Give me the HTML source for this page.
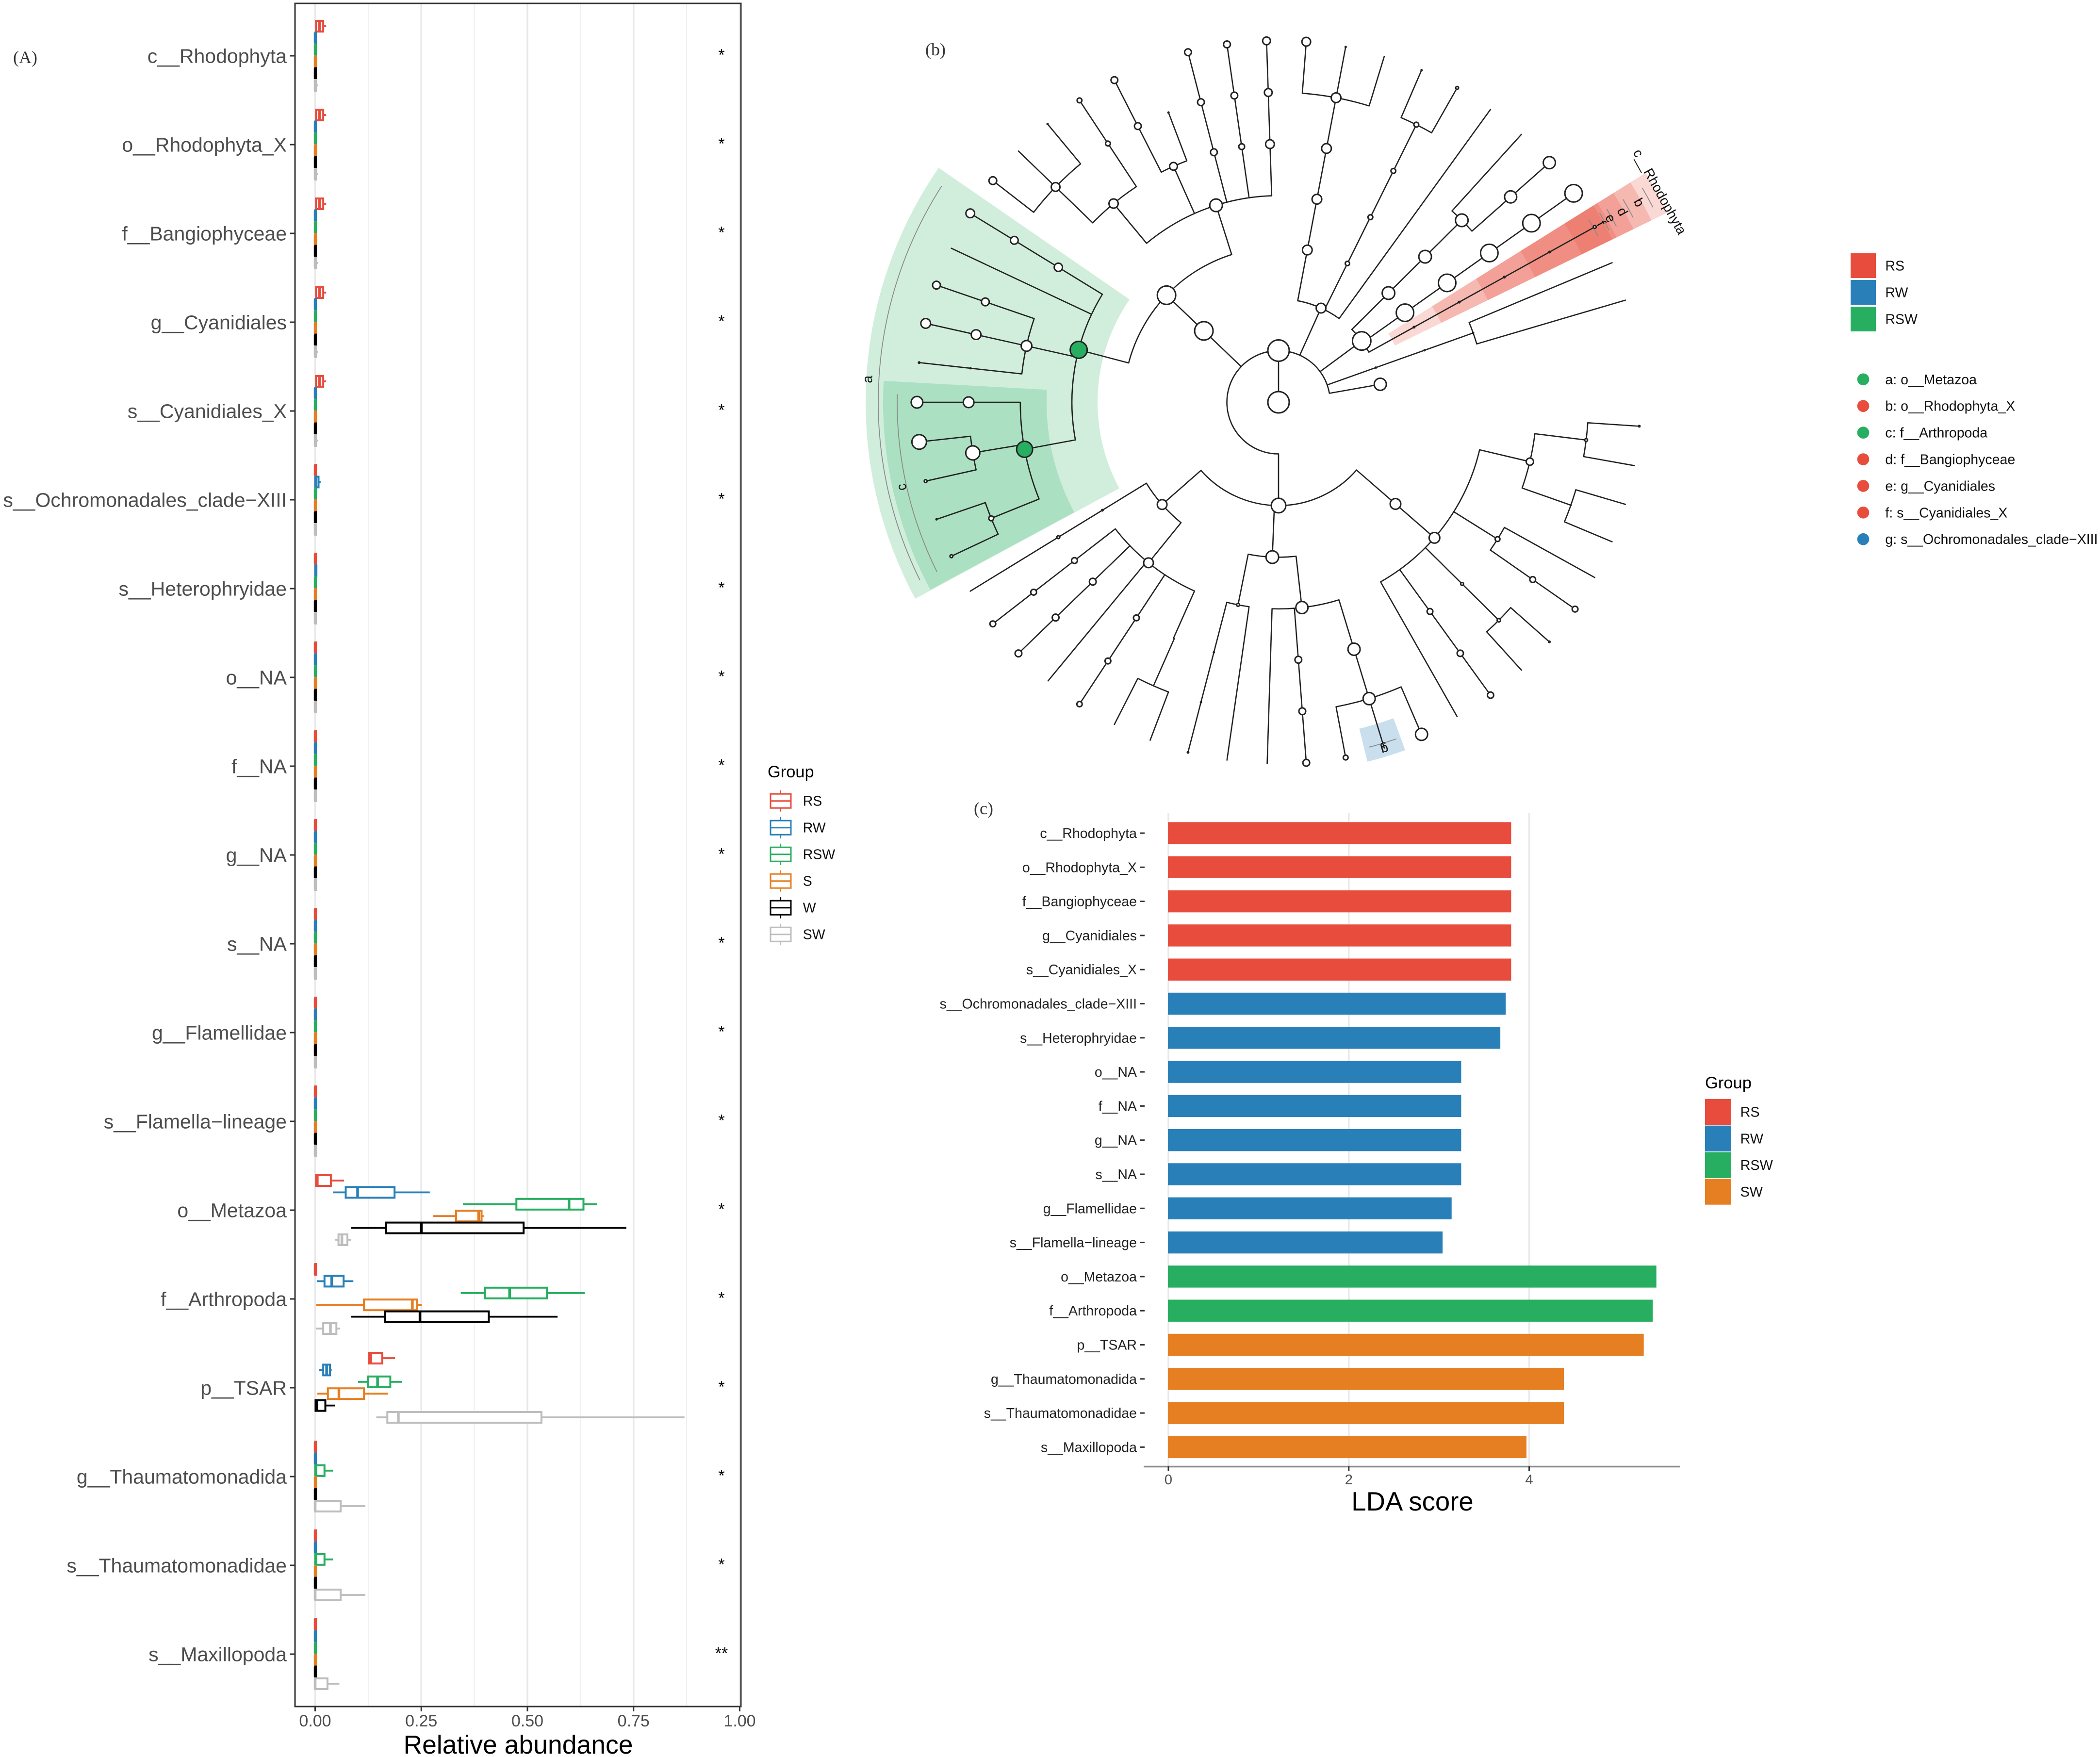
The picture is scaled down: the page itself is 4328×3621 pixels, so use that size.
<!DOCTYPE html>
<html lang="en">
<head>
<meta charset="utf-8">
<title>Relative abundance, cladogram and LDA score</title>
<style>
html,body{margin:0;padding:0;background:#fff;}
svg{display:block;}
text{font-family:"Liberation Sans",sans-serif;}
.serif{font-family:"Liberation Serif",serif;}
</style>
</head>
<body>
<svg id="fig" xmlns="http://www.w3.org/2000/svg" width="4328" height="3621" viewBox="0 0 4328 3621">
<rect x="0" y="0" width="4328" height="3621" fill="#fff"/>
</svg>
<script>
/* ---------- shared data ---------- */
const taxa = ['c__Rhodophyta','o__Rhodophyta_X','f__Bangiophyceae','g__Cyanidiales','s__Cyanidiales_X','s__Ochromonadales_clade\u2212XIII','s__Heterophryidae','o__NA','f__NA','g__NA','s__NA','g__Flamellidae','s__Flamella\u2212lineage','o__Metazoa','f__Arthropoda','p__TSAR','g__Thaumatomonadida','s__Thaumatomonadidae','s__Maxillopoda'];
const boxGroups = ['RS','RW','RSW','S','W','SW'];
const boxColors = ['#E74C3C','#2980B9','#27AE60','#E67E22','#000000','#BDBDBD'];
const t = [0,0,0,.002,.002];
const r0 = [.001,.002,.01,.019,.026];
const g0 = [0,0,0,.002,.007];
/* each entry: lower whisker, q1, median, q3, upper whisker */
const boxRS  = [r0,r0,r0,r0,r0,t,t,t,t,t,t,t,t,[.002,.002,.005,.037,.068],[0,0,0,.002,.002],[.127,.127,.131,.158,.188],t,t,t];
const boxRW  = [t,t,t,t,t,[0,0,.002,.008,.013],[0,0,.001,.003,.004],t,t,t,t,t,t,[.042,.072,.10,.187,.27],[.004,.022,.039,.067,.09],[.009,.019,.027,.035,.039],t,t,t];
const boxRSW = [t,t,t,t,t,t,t,t,t,t,t,t,t,[.348,.474,.598,.632,.664],[.343,.40,.458,.546,.635],[.101,.124,.147,.177,.205],[0,0,.002,.022,.042],[0,0,.002,.022,.042],t];
const boxS   = [t,t,t,t,t,t,t,t,t,t,t,t,t,[.278,.332,.385,.392,.397],[.002,.115,.229,.24,.251],[.005,.03,.056,.115,.172],t,t,t];
const boxW   = [t,t,t,t,t,t,t,t,t,t,t,t,t,[.085,.167,.25,.491,.733],[.085,.165,.247,.409,.571],[0,.001,.004,.024,.047],t,t,t];
const boxSW  = [g0,g0,g0,g0,g0,t,t,t,t,t,t,t,t,[.047,.055,.063,.076,.085],[.002,.019,.036,.05,.059],[.144,.17,.196,.533,.87],[0,0,0,.06,.118],[0,0,0,.06,.118],[0,0,0,.029,.057]];
const boxSeries = [boxRS,boxRW,boxRSW,boxS,boxW,boxSW];
const signif = ['*','*','*','*','*','*','*','*','*','*','*','*','*','*','*','*','*','*','**'];
const abundanceTicks = [0,.25,.5,.75,1];
const abundanceTickLabels = ['0.00','0.25','0.50','0.75','1.00'];
const abundanceMinor = [.125,.375,.625,.875];

const ldaScores = [3.8,3.8,3.8,3.8,3.8,3.74,3.68,3.246,3.246,3.246,3.246,3.14,3.04,5.41,5.37,5.27,4.385,4.385,3.97];
const ldaGroups = ['RS','RS','RS','RS','RS','RW','RW','RW','RW','RW','RW','RW','RW','RSW','RSW','SW','SW','SW','SW'];
const ldaTicks = [0,2,4];
const ldaLegend = ['RS','RW','RSW','SW'];
const ldaColors = {RS:'#E74C3C',RW:'#2980B9',RSW:'#27AE60',SW:'#E67E22'};

const cladeKeyGroups = ['RS','RW','RSW'];
const cladeKeyLabels = ['a: o__Metazoa','b: o__Rhodophyta_X','c: f__Arthropoda','d: f__Bangiophyceae','e: g__Cyanidiales','f: s__Cyanidiales_X','g: s__Ochromonadales_clade\u2212XIII'];
const cladeKeyFill = ['RSW','RS','RSW','RS','RS','RS','RW'];

/* cladogram: node = angle (deg clockwise from top), circle radius, children; depth gives the ring */
function N(a,s,...kids){return {a:a,s:s,kids:kids,fill:'#fff'};}
function G(a,s,...kids){return {a:a,s:s,kids:kids,fill:'#27AE60'};}
function L(a,s){return N(a,s);}
function C(a,sizes){let n=null;for(let i=sizes.length-1;i>=0;i--){n=n?N(a,sizes[i],n):N(a,sizes[i]);}return n;}
const cladeTree = N(0,22,N(0,22,
  N(-46.3,19,N(-46.3,19,
    G(-75.3,17.5,
      C(-58.5,[8.5,8,9]),
      C(-64.8,[0,0,0]),
      N(-77.4,11,C(-71.1,[8,8]),C(-77.4,[10,10]),C(-83.7,[2,2.5])),
      G(-100.5,16.5,C(-90,[11,12]),N(-99.4,14.5,L(-96.3,15),L(-102.6,3)),N(-112,5,L(-108.9,2),L(-115.2,3)))
    ),
    N(-17.6,13,
      N(-39.7,9.5,N(-46,9,L(-52.2,8),L(-46,0),L(-39.7,2)),C(-33.4,[5,5])),
      N(-24,8,C(-27,[7,7]),L(-20.8,2)),
      C(-14.5,[7,7,7]),
      C(-8.2,[6,7,7]),
      C(-1.9,[9,8,8])
    )
  )),
  N(-180,15,
    N(-131.3,10,
      C(-121.5,[2.5,3,0,0]),
      N(-141,10,C(-127.8,[6,6,6]),C(-134,[7,7,7]),C(-140.4,[0,0,0]),C(-146.6,[6,6,5.5]),N(-156,0,N(-156.2,0,L(-153,0),L(-159.2,0))))
    ),
    N(-177.7,13,
      N(-168.7,3,C(-165.5,[2,2,2.5]),C(-171.8,[0,0,0])),
      N(-186.5,12.5,C(-178.2,[0,0,0]),C(-184.4,[7,7,7]),N(-197,12.5,N(-197,12.5,L(-190.7,5),L(-197,0),L(-203.3,12.5))))
    ),
    N(-229,11,N(-229,11,
      C(-209.6,[0,0,0]),
      C(-215.9,[6,6.5,6.5]),
      N(-225.3,3,N(-225.3,3.5,L(-222.2,0),L(-228.5,2.5))),
      N(-238,5,C(-235.1,[6,6]),C(-241,[0,0])),
      N(-256.7,7.5,N(-263,3,L(-266.2,2.5),L(-259.9,0)),N(-250.6,1.5,L(-253.6,0),L(-247.3,0)))
    ))
  ),
  N(24.3,10,
    N(10.7,10,N(10.7,10,N(10.7,10,N(10.7,10,L(4.4,9),L(10.7,2),L(17,0))))),
    N(26.4,4.5,N(26.4,5,N(26.4,5,N(26.4,5,L(23.3,2),L(29.6,3))))),
    C(35.9,[0,0,0,0,0])
  ),
  N(53.6,19,
    N(45.2,13,N(45.2,13,N(45.2,13,C(42.2,[0,0]),C(48.5,[12.5,12.5])))),
    C(54.7,[18,18,18,18,18]),
    C(61,[2.5,2.5,2.5,2.5,3])
  ),
  N(70.4,2,N(70.4,2,N(70.4,2,C(67.3,[0,0,0]),C(73.6,[0,0,0])))),
  L(80,12.5)
));
/* highlighted clades: inner ring, outer ring, start angle, end angle, group */
const cladeSectors = [
  [373,851,-118.4,-55.4,'RSW'],[478,815,-118.3,-86.9,'RSW'],
  [267,892,58,64,'RS'],[373,855,58,64,'RS'],[480,814,58,64,'RS'],[588,775,58,64,'RS'],[695,765,58,64,'RS'],
  [693,763,-200,-193.9,'RW']
];
/* clade bracket arcs: ring, start angle, end angle */
const cladeBrackets = [[825,-116.4,-57.3],[786,-116.4,-88.8],[870,59.5,62.5],[824,59.5,62.5],[785,59.5,62.5],[768,59.5,62.5],[742,59.5,62.5],[735,-199.3,-194.7]];
/* clade labels: text, ring, angle */
const cladeLabels = [['a',849,-86.8],['c',797,-102.7],['c__Rhodophyta',898,61.1],['b',850,61],['d',811,61],['e',783,61],['f',761,61],['g',749,-197]];

/* ---------- helpers ---------- */
const NS='http://www.w3.org/2000/svg';
const fig=document.getElementById('fig');
function mk(tag,attrs,parent){const e=document.createElementNS(NS,tag);for(const k in attrs){e.setAttribute(k,attrs[k]);}(parent||fig).appendChild(e);return e;}
function group(name){const g=mk('g',{});


return g;}
function label(parent,name,str,x,y,size,fill,anchor,cls){const e=mk('text',{x:x,y:y,'font-size':size,fill:fill,'text-anchor':anchor||'start'},parent);if(cls){e.setAttribute('class',cls);}e.textContent=str;


return e;}

/* ---------- panel A ---------- */
const xA=v=>649.5+875*v;
const rowA=i=>115+183*i;
const dodgeA=j=>(j-2.5)*24.4;
const pA=group('panel-a-boxplot');
label(pA,'panel-a-tag','(A)',52,130,36,'#333','middle','serif');
abundanceMinor.forEach(v=>{const e=mk('line',{x1:xA(v),x2:xA(v),y1:8,y2:3516,stroke:'#efefef','stroke-width':2},pA);

});
abundanceTicks.forEach(v=>{const e=mk('line',{x1:xA(v),x2:xA(v),y1:8,y2:3516,stroke:'#e8e8e8','stroke-width':3.5},pA);

});
taxa.forEach((name,i)=>{
  const y=rowA(i);
  const tk=mk('line',{x1:598,x2:608,y1:y,y2:y,stroke:'#333','stroke-width':3},pA);
  
  
  label(pA,'y-label-'+i,name,591,y+14.5,41,'#4d4d4d','end');
  label(pA,'significance-'+i,signif[i],1487,y+9.5,34,'#000','middle');
  boxSeries.forEach((series,j)=>{
    const d=series[i],c=boxColors[j],yy=y+dodgeA(j),h=22;
    const g=mk('g',{},pA);
    
    
    const w1=mk('line',{x1:xA(d[0]),x2:xA(d[1]),y1:yy,y2:yy,stroke:c,'stroke-width':3.8},g);
    
    
    const w2=mk('line',{x1:xA(d[3]),x2:xA(d[4]),y1:yy,y2:yy,stroke:c,'stroke-width':3.8},g);
    
    
    const b=mk('rect',{x:xA(d[1]),y:yy-h/2,width:xA(d[3])-xA(d[1]),height:h,fill:'#fff',stroke:c,'stroke-width':4},g);
    
    
    const m=mk('line',{x1:xA(d[2]),x2:xA(d[2]),y1:yy-h/2,y2:yy+h/2,stroke:c,'stroke-width':5.5},g);
    
    
  });
});
const frameA=mk('rect',{x:608,y:7,width:919,height:3510,fill:'none',stroke:'#333','stroke-width':3},pA);


abundanceTicks.forEach((v,i)=>{
  const e=mk('line',{x1:xA(v),x2:xA(v),y1:3517,y2:3527,stroke:'#333','stroke-width':3},pA);
  
  
  label(pA,'x-tick-label-'+i,abundanceTickLabels[i],xA(v),3558,34,'#4d4d4d','middle');
});
label(pA,'x-axis-title','Relative abundance',1068,3614,53.5,'#000','middle');
/* legend A */
const legA=group('box-legend');
label(legA,'box-legend-title','Group',1582,1602,34.4,'#000');
boxGroups.forEach((name,j)=>{
  const cy=1650.7+55*j,c=boxColors[j];
  const v=mk('line',{x1:1608.6,x2:1608.6,y1:cy-22,y2:cy+22,stroke:c,'stroke-width':3},legA);
  
  
  const b=mk('rect',{x:1588,y:cy-14.5,width:42,height:29,fill:'#fff',stroke:c,'stroke-width':3},legA);
  
  
  const m=mk('line',{x1:1588,x2:1630,y1:cy,y2:cy,stroke:c,'stroke-width':3},legA);
  
  
  label(legA,'legend-label-'+name,name,1654.7,cy+10,28.5,'#111');
});

/* ---------- panel B ---------- */
const cx=2635,cy0=829,ringStep=106.45;
const rad=d=>d*Math.PI/180;
const P=(r,a)=>[cx+r*Math.sin(rad(a)),cy0-r*Math.cos(rad(a))];
function arcD(r,a1,a2,move){const p=P(r,a1),q=P(r,a2);return (move?'M':'L')+p[0].toFixed(1)+' '+p[1].toFixed(1)+' A'+r+' '+r+' 0 '+((a2-a1)>180?1:0)+' 1 '+q[0].toFixed(1)+' '+q[1].toFixed(1);}
function arcBack(r,a1,a2){const q=P(r,a1);return 'A'+r+' '+r+' 0 '+((a2-a1)>180?1:0)+' 0 '+q[0].toFixed(1)+' '+q[1].toFixed(1);}
const pB=group('panel-b-cladogram');
label(pB,'panel-b-tag','(b)',1928,114,36,'#333','middle','serif');
cladeSectors.forEach(s=>{
  const e=mk('path',{d:arcD(s[1],s[2],s[3],true)+' L'+P(s[0],s[3]).map(v=>v.toFixed(1)).join(' ')+' '+arcBack(s[0],s[2],s[3])+' Z',fill:ldaColors[s[4]],'fill-opacity':s[4]==='RSW'?0.21:(s[4]==='RS'?0.22:0.25)},pB);
  
  
});
cladeBrackets.forEach(s=>{
  const e=mk('path',{d:arcD(s[0],s[1],s[2],true),fill:'none',stroke:'#8a8a8a','stroke-width':1.8},pB);
  
  
});
const dots=[];
function drawNode(n,depth){
  const r=ringStep*depth;
  if(n.kids.length){
    const as=n.kids.map(k=>k.a),lo=Math.min.apply(null,as),hi=Math.max.apply(null,as);
    if(hi>lo){
      const e=mk('path',{d:arcD(r,lo,hi,true),fill:'none',stroke:'#222','stroke-width':2.6},pB);
      
      
    }
    n.kids.forEach(k=>{
      const a=P(r,k.a),b=P(r+ringStep,k.a);
      const e=mk('line',{x1:a[0],y1:a[1],x2:b[0],y2:b[1],stroke:'#222','stroke-width':2.6,'stroke-linecap':'round'},pB);
      
      
      drawNode(k,depth+1);
    });
  }
  if(n.s>0){dots.push([n,r]);}
}
drawNode(cladeTree,0);
dots.forEach(d=>{
  const n=d[0],p=P(d[1],n.a);
  const tiny=n.s<=2.5;
  const e=mk('circle',{cx:p[0],cy:p[1],r:n.s,fill:tiny?'#222':n.fill,stroke:'#222','stroke-width':tiny?1:3},pB);
  
  
});
cladeLabels.forEach(l=>{
  const p=P(l[1],l[2]);
  const e=mk('text',{x:0,y:0,'font-size':28,fill:'#111','text-anchor':'middle',transform:'translate('+p[0].toFixed(1)+' '+p[1].toFixed(1)+') rotate('+l[2]+') translate(0 10)'},pB);
  e.textContent=l[0];
  
  
});
const legB=group('clade-legend');
cladeKeyGroups.forEach((name,i)=>{
  const yy=547.5+55*i;
  const e=mk('rect',{x:3814,y:yy-25.5,width:52,height:51,fill:ldaColors[name]},legB);
  
  
  label(legB,'clade-legend-label-'+name,name,3885.4,yy+10,28.5,'#111');
});
cladeKeyLabels.forEach((str,i)=>{
  const yy=781.8+54.9*i;
  const e=mk('circle',{cx:3840,cy:yy,r:12.3,fill:ldaColors[cladeKeyFill[i]]},legB);
  
  
  label(legB,'clade-key-label-'+i,str,3885.4,yy+10,28.5,'#111');
});

/* ---------- panel C ---------- */
const xC=v=>2408+185.9*v;
const rowC=i=>1717+70.3*i;
const pC=group('panel-c-lda-bars');
label(pC,'panel-c-tag','(c)',2027,1678,36,'#333','middle','serif');
ldaTicks.forEach(v=>{
  const e=mk('line',{x1:xC(v),x2:xC(v),y1:1675,y2:3022,stroke:'#e9e9e9','stroke-width':3.5},pC);
  
  
});
taxa.forEach((name,i)=>{
  const y=rowC(i);
  const b=mk('rect',{x:xC(0)-1,y:y-22.7,width:xC(ldaScores[i])-xC(0)+1,height:45.4,fill:ldaColors[ldaGroups[i]]},pC);
  
  
  const tk=mk('line',{x1:2350,x2:2359,y1:y,y2:y,stroke:'#333','stroke-width':3},pC);
  
  
  label(pC,'lda-y-label-'+i,name,2343,y+10,28.5,'#222','end');
});
const axC=mk('line',{x1:2357,x2:3463,y1:3022.5,y2:3022.5,stroke:'#8c8c8c','stroke-width':3.5},pC);


ldaTicks.forEach(v=>{
  const e=mk('line',{x1:xC(v),x2:xC(v),y1:3022,y2:3032,stroke:'#333','stroke-width':3},pC);
  
  
  label(pC,'lda-x-tick-label-'+v,String(v),xC(v),3059,29,'#4d4d4d','middle');
});
label(pC,'lda-x-axis-title','LDA score',2911,3113,54.5,'#000','middle');
const legC=group('lda-legend');
label(legC,'lda-legend-title','Group',3514,2243,34.5,'#000');
ldaLegend.forEach((name,i)=>{
  const yy=2291.6+54.8*i;
  const e=mk('rect',{x:3514,y:yy-26.7,width:54,height:53.4,fill:ldaColors[name]},legC);
  
  
  label(legC,'lda-legend-label-'+name,name,3586.6,yy+10,28.8,'#111');
});
</script>
</body>
</html>
